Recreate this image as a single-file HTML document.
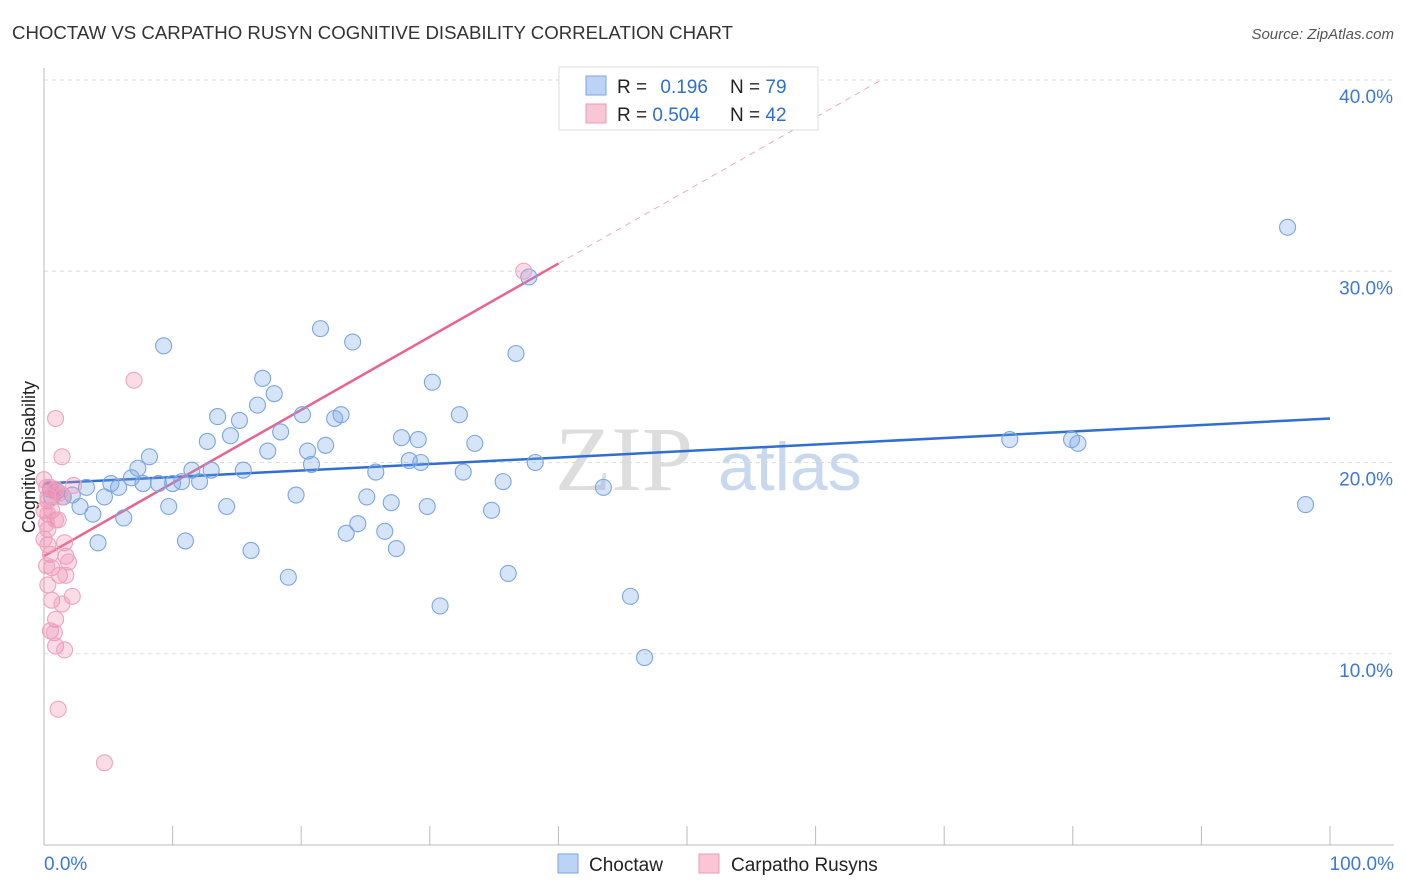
<!DOCTYPE html>
<html><head><meta charset="utf-8"><style>
body{margin:0;background:#fff;font-family:"Liberation Sans",sans-serif;}
svg{display:block}
</style></head><body>
<svg id="chart" width="1406" height="892">
<text x="12" y="39" font-size="18" fill="#333" textLength="721" lengthAdjust="spacingAndGlyphs">CHOCTAW VS CARPATHO RUSYN COGNITIVE DISABILITY CORRELATION CHART</text>
<text x="1394" y="39" font-size="15" fill="#555" text-anchor="end" font-style="italic">Source: ZipAtlas.com</text>
<text x="35" y="457" font-size="18" fill="#222" text-anchor="middle" transform="rotate(-90 35 457)">Cognitive Disability</text>
<g>
<text x="555" y="490" font-size="92" fill="#ddd" font-family="Liberation Serif,serif">ZIP</text>
<text x="718" y="490" font-size="68" fill="#c8d8ef">atlas</text>
</g>
<g id="grid"></g><g id="axes"></g><g id="lines"></g><g id="points"></g>
<g>
<rect x="559" y="67" width="259" height="63" fill="#fff" stroke="#ddd"/>
<rect x="586" y="76" width="20" height="19" fill="#bcd3f5" stroke="#7aa6e3"/>
<rect x="586" y="104" width="20" height="19" fill="#f9c6d6" stroke="#ee9ab6"/>
<text x="617" y="93" font-size="19" fill="#222">R = <tspan fill="#2f6fd0" dx="8">0.196</tspan></text>
<text x="730" y="93" font-size="19" fill="#222">N = <tspan fill="#2f6fd0">79</tspan></text>
<text x="617" y="121" font-size="19" fill="#222">R = <tspan fill="#2f6fd0">0.504</tspan></text>
<text x="730" y="121" font-size="19" fill="#222">N = <tspan fill="#2f6fd0">42</tspan></text>
</g>
<g>
<rect x="558" y="854" width="20" height="19" fill="#bcd3f5" stroke="#7aa6e3"/>
<text x="589" y="871" font-size="19" fill="#222">Choctaw</text>
<rect x="699" y="854" width="20" height="19" fill="#f9c6d6" stroke="#ee9ab6"/>
<text x="731" y="871" font-size="19" fill="#222">Carpatho Rusyns</text>
</g>
</svg>
<script>
const yTicks=[10,20,30,40];
const yTickLabels=["10.0%","20.0%","30.0%","40.0%"];
const xTicks=[0,10,20,30,40,50,60,70,80,90,100];
const xEndLabels=["0.0%","100.0%"];
const choctawX=[96.7,98.1,75.1,79.9,80.4,46.7,45.6,43.5,38.2,37.7,36.7,36.1,35.7,34.8,33.5,32.6,32.3,30.8,30.2,29.8,29.3,29.1,28.4,27.8,27.4,27.0,26.5,25.8,25.1,24.4,24.0,23.5,23.1,22.6,21.9,21.5,20.8,20.5,20.1,19.6,19.0,18.4,17.9,17.4,17.0,16.6,16.1,15.5,15.2,14.5,14.2,13.5,13.0,12.7,12.1,11.5,11.0,10.7,10.0,9.7,9.3,8.9,8.2,7.7,7.3,6.8,6.2,5.8,5.2,4.7,4.2,3.8,3.3,2.8,2.2,1.5,1.0,0.6,0.5];
const choctawY=[32.3,17.8,21.2,21.2,21.0,9.8,13.0,18.7,20.0,29.7,25.7,14.2,19.0,17.5,21.0,19.5,22.5,12.5,24.2,17.7,20.0,21.2,20.1,21.3,15.5,17.9,16.4,19.5,18.2,16.8,26.3,16.3,22.5,22.3,20.9,27.0,19.9,20.6,22.5,18.3,14.0,21.6,23.6,20.6,24.4,23.0,15.4,19.6,22.2,21.4,17.7,22.4,19.6,21.1,19.0,19.6,15.9,19.0,18.9,17.7,26.1,18.9,20.3,18.9,19.7,19.2,17.1,18.7,18.9,18.2,15.8,17.3,18.7,17.7,18.3,18.2,18.5,18.2,18.6];
const rusynX=[37.3,7.0,0.9,1.4,0,0.5,0.9,2.3,0.3,0.6,1.1,0.3,0.9,1.6,0.3,0.5,1.7,1.9,0.6,1.2,1.7,2.2,0.6,1.4,0.9,0.5,0.8,0.9,1.6,1.1,4.7,0,0.3,0.2,0,0.2,0.3,1.2,0.2,0.8,1.4,0.3];
const rusynY=[30.0,24.3,22.3,20.3,19.1,18.7,18.6,18.8,18.0,17.5,17.0,16.5,17.0,15.8,15.7,15.2,15.1,14.8,14.5,14.1,14.1,13.0,12.8,12.6,11.8,11.2,11.1,10.4,10.2,7.1,4.3,17.5,17.3,16.8,16.0,14.6,13.6,18.4,18.7,18.5,18.2,18.2];
const choctawTrend=[[0,18.9],[100,22.3]];
const rusynTrend=[[0,15.1],[40,30.4]];
const rusynTrendExt=[[40,30.4],[65.1,40]];
const NS="http://www.w3.org/2000/svg";
const X=v=>44+v*12.86, Y=v=>845-v*19.125;
function mk(tag,parent,attrs){const e=document.createElementNS(NS,tag);for(const k in attrs)e.setAttribute(k,attrs[k]);document.getElementById(parent).appendChild(e);return e;}
yTicks.forEach((t,i)=>{
 const l=mk('line','grid',{x1:44,x2:1394,y1:Y(t),y2:Y(t),stroke:'#ddd','stroke-dasharray':'4 4'});
 
 
 const tx=mk('text','axes',{x:1393,y:Y(t)+23,'font-size':19,fill:'#3b78d8','text-anchor':'end'});
 tx.textContent=yTickLabels[i];
 
 
});
const ax=mk('line','axes',{x1:44,x2:44,y1:68,y2:845,stroke:'#bbb'});


const bx=mk('line','axes',{x1:44,x2:1394,y1:845,y2:845,stroke:'#bbb'});


xTicks.forEach(t=>{
 const l=mk('line','axes',{x1:X(t),x2:X(t),y1:826,y2:845,stroke:'#bbb'});
 
 
});
[[0,'start'],[100,'end']].forEach(([t,a],i)=>{
 const tx=mk('text','axes',{x:i?1394:44,y:870,'font-size':19,fill:'#3b78d8','text-anchor':a});
 tx.textContent=xEndLabels[i];
 
 
});
function pts(xs,ys,fill,stroke,name){xs.forEach((x,i)=>{
 const c=mk('circle','points',{cx:X(x),cy:Y(ys[i]),r:8,fill:fill,stroke:stroke,'stroke-width':1.1});
 
 
});}
pts(choctawX,choctawY,'rgba(120,165,230,0.3)','#7aa6e3','choctaw-point');
pts(rusynX,rusynY,'rgba(240,140,175,0.3)','#f0a3bd','carpatho-point');
function ln(p,col,w,dash,name){
 const l=mk('line','lines',{x1:X(p[0][0]),y1:Y(p[0][1]),x2:X(p[1][0]),y2:Y(p[1][1]),stroke:col,'stroke-width':w});
 if(dash)l.setAttribute('stroke-dasharray',dash);
 
 
}
ln(choctawTrend,'#2f6fd0',2.5,null,'choctaw-trendline');
ln(rusynTrend,'#e8648f',2.5,null,'carpatho-trendline');
ln(rusynTrendExt,'#eeaac0',1,'6 5','carpatho-trendline-extension');
</script>
</body></html>
